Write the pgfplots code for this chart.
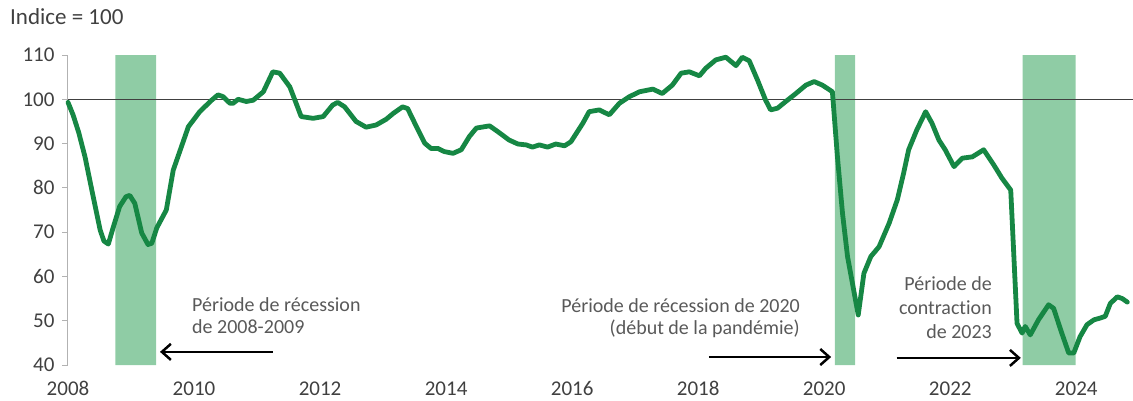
\documentclass[border=0pt]{standalone}
\usepackage{pgfplots}
\pgfplotsset{compat=1.18}
\usepackage{fontspec}
\setmainfont[Ligatures={NoCommon}]{Carlito}
\usetikzlibrary{arrows.meta}
\definecolor{linec}{RGB}{22,135,68}
\definecolor{barc}{RGB}{143,204,165}
\definecolor{tickc}{RGB}{64,64,64}
\definecolor{annc}{RGB}{89,89,89}
\begin{document}
\begin{tikzpicture}[x=1pt,y=1pt]
\useasboundingbox (0,0) rectangle (1133,400);
\begin{axis}[
  at={(68pt,35pt)}, anchor=south west,
  scale only axis, width=1065pt, height=310pt,
  xmin=2008, xmax=2024.9, ymin=40, ymax=110,
  axis x line*=bottom, axis y line*=left,
  x axis line style={draw=none},
  y axis line style={-, draw=gray!60, line width=1pt},
  xtick={2008,2010,2012,2014,2016,2018,2020,2022,2024},
  xticklabels={2008,2010,2012,2014,2016,2018,2020,2022,2024},
  ytick={40,50,60,70,80,90,100,110},
  yticklabels={40,50,60,70,80,90,100,110},
  x tick style={draw=none},
  y tick style={draw=gray!60, line width=1pt},
  tick align=outside, major tick length=6pt,
  /pgf/number format/assume math mode=true,
  ticklabel style={font=\fontsize{21}{25}\selectfont, text=tickc},
  xticklabel style={yshift=-7pt},
  yticklabel style={xshift=-4pt},
  clip=false,
]
\addplot[fill=barc, draw=none] coordinates {(2008.75,40) (2008.75,110) (2009.40,110) (2009.40,40)} \closedcycle;
\addplot[fill=barc, draw=none] coordinates {(2020.17,40) (2020.17,110) (2020.49,110) (2020.49,40)} \closedcycle;
\addplot[fill=barc, draw=none] coordinates {(2023.15,40) (2023.15,110) (2023.99,110) (2023.99,40)} \closedcycle;
\addplot[black!75, line width=0.9pt] coordinates {(2008,100) (2024.9,100)};
\addplot[linec, line width=4.8pt, line join=round, line cap=round] coordinates {
(2008.00,99.3) (2008.08,96.5) (2008.17,92.5) (2008.27,87) (2008.40,78) (2008.51,70.5)
(2008.57,68) (2008.64,67.3) (2008.72,71.2) (2008.82,75.8) (2008.92,78) (2008.98,78.3)
(2009.06,76.5) (2009.17,69.8) (2009.27,67.2) (2009.33,67.5) (2009.41,71) (2009.56,75)
(2009.67,84) (2009.80,89.3) (2009.91,93.8) (2010.09,97.2) (2010.28,99.8) (2010.38,101)
(2010.46,100.6) (2010.57,99.1) (2010.62,99.1) (2010.70,100) (2010.83,99.5) (2010.94,99.8)
(2011.10,101.7) (2011.25,106.2) (2011.36,105.9) (2011.52,102.8) (2011.62,99.1) (2011.70,96.1)
(2011.89,95.7) (2012.05,96.1) (2012.20,98.7) (2012.28,99.3) (2012.39,98.3) (2012.57,95)
(2012.73,93.7) (2012.89,94.2) (2013.05,95.5) (2013.16,96.8) (2013.31,98.3) (2013.39,97.9)
(2013.53,93.8) (2013.66,90.1) (2013.76,88.9) (2013.87,88.9) (2013.97,88.2) (2014.11,87.8)
(2014.24,88.6) (2014.37,91.6) (2014.48,93.5) (2014.69,94.0) (2014.82,92.7) (2015.00,90.8)
(2015.14,89.9) (2015.27,89.7) (2015.37,89.2) (2015.48,89.7) (2015.61,89.2) (2015.74,89.9)
(2015.88,89.5) (2015.98,90.4) (2016.17,94.6) (2016.27,97.2) (2016.43,97.6) (2016.59,96.5)
(2016.75,99.1) (2016.91,100.6) (2017.07,101.7) (2017.28,102.3) (2017.43,101.3) (2017.59,103.2)
(2017.73,105.9) (2017.86,106.2) (2018.02,105.3) (2018.12,107) (2018.28,108.9) (2018.44,109.5)
(2018.60,107.6) (2018.70,109.5) (2018.81,108.7) (2018.94,104.4) (2019.07,99.8) (2019.15,97.6)
(2019.26,98.0) (2019.39,99.5) (2019.55,101.3) (2019.71,103.2) (2019.84,104) (2019.97,103.2)
(2020.13,101.7) (2020.21,87) (2020.29,74.3) (2020.37,64.5) (2020.54,51.3) (2020.63,60.7)
(2020.74,64.5) (2020.87,66.7) (2021.03,72) (2021.16,77.3) (2021.26,83.3) (2021.34,88.6)
(2021.47,93.1) (2021.61,97.2) (2021.71,94.6) (2021.82,90.8) (2021.92,88.6) (2022.06,84.8)
(2022.19,86.7) (2022.35,87) (2022.53,88.6) (2022.69,85.2) (2022.82,82.2) (2022.96,79.5)
(2023.06,49.4) (2023.14,47.2) (2023.19,48.7) (2023.27,46.8) (2023.40,50.2) (2023.56,53.6)
(2023.64,52.8) (2023.77,47.2) (2023.88,42.7) (2023.96,42.7) (2024.06,46.4) (2024.17,49.1)
(2024.28,50.2) (2024.38,50.6) (2024.46,51) (2024.54,53.9) (2024.65,55.4) (2024.73,55)
(2024.81,54.2)
};
\draw[black, line width=2.5pt, -{Straight Barb[length=9pt,width=16pt,line width=2.5pt]}] (axis cs:2011.25,42.96) -- (axis cs:2009.46,42.96);
\draw[black, line width=2.5pt, -{Straight Barb[length=9pt,width=16pt,line width=2.5pt]}] (axis cs:2018.17,41.8) -- (axis cs:2020.11,41.8);
\draw[black, line width=2.5pt, -{Straight Barb[length=9pt,width=16pt,line width=2.5pt]}] (axis cs:2021.15,41.6) -- (axis cs:2023.12,41.6);
\end{axis}
\node[anchor=base west, inner sep=0, text=tickc, font=\fontsize{23}{27}\selectfont] at (10,375) {Indice = 100};
\begin{scope}[every node/.style={inner sep=0, text=annc, font=\fontsize{20}{24}\selectfont}]
\node[anchor=base west] at (192,89) {Période de récession};
\node[anchor=base west] at (192,67) {de 2008-2009};
\node[anchor=base east] at (800,88) {Période de récession de 2020};
\node[anchor=base east] at (800,66) {(début de la pandémie)};
\node[anchor=base east] at (992,110) {Période de};
\node[anchor=base east] at (992,86) {contraction};
\node[anchor=base east] at (992,62) {de 2023};
\end{scope}
\end{tikzpicture}
\end{document}
